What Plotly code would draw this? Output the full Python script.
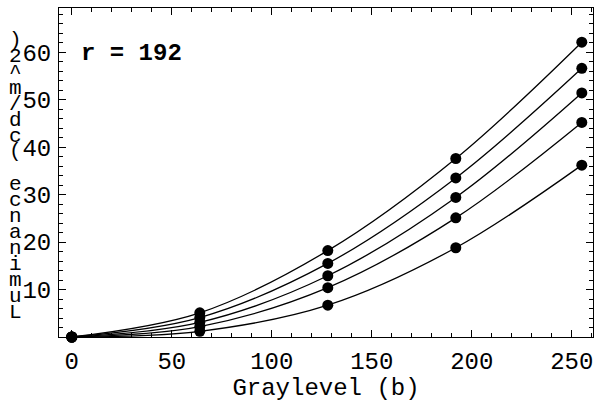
import plotly.graph_objects as go

graylevel = [0, 64, 128, 192, 255]
series_1 = [0, 5.1, 18.2, 37.6, 62.1]
series_2 = [0, 4.1, 15.5, 33.5, 56.6]
series_3 = [0, 3.1, 12.9, 29.4, 51.4]
series_4 = [0, 2.2, 10.4, 25.1, 45.2]
series_5 = [0, 1.2, 6.7, 18.8, 36.2]
all_series = [series_1, series_2, series_3, series_4, series_5]

x_ticks = [0, 50, 100, 150, 200, 250]
y_ticks = [10, 20, 30, 40, 50, 60]
y_title = "Luminance (cd/m^2)"
x_title = "Graylevel (b)"
label_text = "r = 192"

FONT = "Liberation Mono, Courier New, monospace"

fig = go.Figure()
for i, s in enumerate(all_series):
    fig.add_trace(go.Scatter(
        x=graylevel, y=s, mode="lines+markers",
        line=dict(color="black", width=1.3, shape="spline"),
        marker=dict(color="black", size=11),
        cliponaxis=False, showlegend=False, name=f"series {i+1}"))

W, H = 596, 402
ml, mr, mt, mb = 59, 3, 8, 65

fig.update_layout(
    width=W, height=H,
    margin=dict(l=ml, r=mr, t=mt, b=mb),
    paper_bgcolor="white", plot_bgcolor="white",
    font=dict(family=FONT, size=24, color="black"),
)
axis_common = dict(
    showgrid=False, zeroline=False, showline=True, linecolor="black", linewidth=1,
    mirror="ticks", ticks="inside", ticklen=7, tickcolor="black", tickwidth=1,
    tickfont=dict(family=FONT, size=24, color="black"),
)
fig.update_xaxes(range=[-6.4, 260.6], tickvals=x_ticks, ticktext=[str(v) for v in x_ticks],
                 minor=dict(dtick=10, ticks="inside", ticklen=4, tickcolor="black"),
                 ticklabelstandoff=2,
                 title=dict(text=x_title, font=dict(family=FONT, size=24), standoff=2),
                 **axis_common)
fig.update_yaxes(range=[0, 69.3], tickvals=y_ticks, ticktext=[str(v) for v in y_ticks],
                 minor=dict(dtick=2, ticks="inside", ticklen=4, tickcolor="black"),
                 ticklabelstandoff=2,
                 **axis_common)

# stacked vertical y-axis title, characters from bottom (first) to top (last)
chars = list(y_title)
step = 16.0  # px per character
bottom_px = 312
for k, ch in enumerate(chars):
    ypx = bottom_px - k * step
    if ch == " ":
        continue
    fig.add_annotation(
        x=(15 - ml) / (W - ml - mr), y=(H - mb - ypx) / (H - mt - mb),
        xref="paper", yref="paper", text=ch,
        showarrow=False, xanchor="center", yanchor="middle",
        font=dict(family=FONT, size=21, color="black"))

fig.add_annotation(x=3.5, y=59.8, xref="x", yref="y", text=f"<b>{label_text}</b>",
                   showarrow=False, xanchor="left", yanchor="middle",
                   font=dict(family=FONT, size=24, color="black"))

fig.write_html("out.html")
